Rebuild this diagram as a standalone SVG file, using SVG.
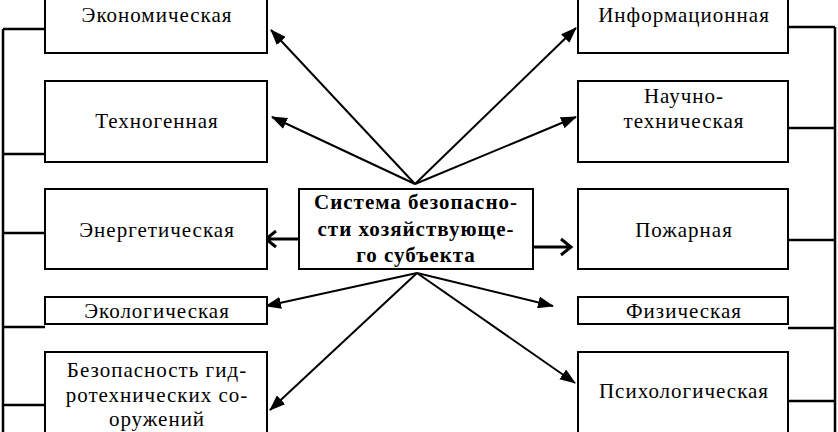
<svg xmlns="http://www.w3.org/2000/svg" width="838" height="432" viewBox="0 0 838 432">
<defs>
<style>
.box{fill:#fff;stroke:#000;stroke-width:2}
.t{font-family:"Liberation Serif","Times New Roman",serif;font-size:21px;letter-spacing:1px;fill:#000;text-anchor:middle}
.b{font-weight:bold}
.c{stroke:#000;stroke-width:2;fill:none}
.bus{stroke:#000;stroke-width:2.5;fill:none}
.ar{stroke:#000;stroke-width:2;fill:none;marker-end:url(#ah)}
.ao{stroke:#000;stroke-width:3;fill:none}
</style>
<marker id="ah" markerWidth="16" markerHeight="12" refX="15" refY="6" orient="auto" markerUnits="userSpaceOnUse">
<path d="M0,0 L16,6 L0,12 Z" fill="#000"/>
</marker>
</defs>
<rect width="838" height="432" fill="#fff"/>
<g id="connectors">
<path class="bus" d="M3,29 V432 M3,29 H45 M3,154 H45 M3,233 H45 M3,327 H45 M3,405 H45"/>
<path class="bus" d="M835,27 V432 M788,27 H835 M788,128 H835 M788,240 H835 M788,328 H835 M788,401 H835"/>
<line class="ar" x1="415" y1="184" x2="271" y2="30"/>
<line class="ar" x1="415" y1="184" x2="272" y2="117"/>
<line class="ar" x1="415" y1="184" x2="576" y2="28"/>
<line class="ar" x1="415" y1="184" x2="576" y2="117"/>
<line class="ar" x1="417" y1="273" x2="266" y2="306"/>
<line class="ar" x1="417" y1="273" x2="270" y2="410"/>
<line class="ar" x1="417" y1="273" x2="553" y2="306"/>
<line class="ar" x1="417" y1="273" x2="575" y2="383"/>
<path class="ao" d="M299,239 H266 M276,231 L266,239 L276,247"/>
<path class="ao" d="M533,247 H571 M561,239 L571,247 L561,255"/>
</g>
<g id="center">
<rect class="box" x="299" y="189" width="234" height="80"/>
<text class="t b" x="416" y="209">Система безопасно-</text>
<text class="t b" x="416" y="236">сти хозяйствующе-</text>
<text class="t b" x="416" y="262">го субъекта</text>
</g>
<g id="n-econ"><rect class="box" x="45" y="-2" width="222" height="55"/><text class="t" x="157" y="22">Экономическая</text></g>
<g id="n-tech"><rect class="box" x="45" y="81" width="222" height="81"/><text class="t" x="157" y="128">Техногенная</text></g>
<g id="n-energy"><rect class="box" x="45" y="189" width="222" height="80"/><text class="t" x="157" y="237">Энергетическая</text></g>
<g id="n-eco"><rect class="box" x="45" y="297" width="222" height="27"/><text class="t" x="157" y="318">Экологическая</text></g>
<g id="n-hydro"><rect class="box" x="45" y="352" width="222" height="82"/><text class="t" x="157" y="377">Безопасность гид-</text><text class="t" x="157" y="402">ротехнических со-</text><text class="t" x="157" y="426">оружений</text></g>
<g id="n-info"><rect class="box" x="578" y="-2" width="210" height="55"/><text class="t" x="684" y="22">Информационная</text></g>
<g id="n-sci"><rect class="box" x="578" y="81" width="210" height="81"/><text class="t" x="684" y="103">Научно-</text><text class="t" x="684" y="128">техническая</text></g>
<g id="n-fire"><rect class="box" x="578" y="189" width="210" height="80"/><text class="t" x="684" y="237">Пожарная</text></g>
<g id="n-phys"><rect class="box" x="578" y="297" width="210" height="27"/><text class="t" x="684" y="318">Физическая</text></g>
<g id="n-psy"><rect class="box" x="578" y="352" width="210" height="82"/><text class="t" x="684" y="398">Психологическая</text></g>
</svg>
